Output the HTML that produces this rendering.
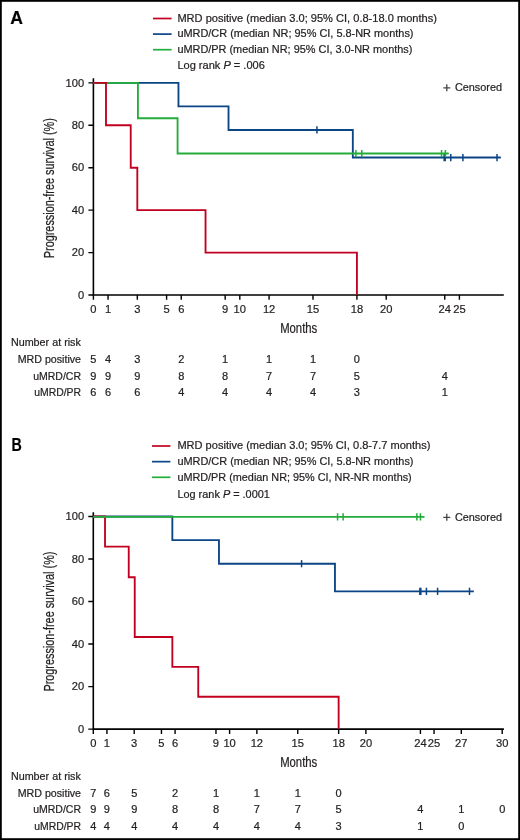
<!DOCTYPE html>
<html><head><meta charset="utf-8"><style>
html,body{margin:0;padding:0;background:#fff;}
body{width:520px;height:840px;overflow:hidden;}
svg{display:block;font-family:"Liberation Sans", sans-serif;will-change:transform;}
text{stroke:#231f20;stroke-width:0.22px;}
</style></head><body>
<svg width="520" height="840" viewBox="0 0 520 840">
<rect x="0" y="0" width="520" height="840" fill="#fff"/>
<text x="10.3" y="23.6" font-size="17.6" font-weight="bold" fill="#000" >A</text>
<line x1="153" y1="18.5" x2="171.6" y2="18.5" stroke="#c1001f" stroke-width="1.7"/>
<text x="177.4" y="21.8" font-size="11" textLength="259.5" lengthAdjust="spacingAndGlyphs" fill="#231f20" >MRD positive (median 3.0; 95% CI, 0.8-18.0 months)</text>
<line x1="153" y1="34.1" x2="171.6" y2="34.1" stroke="#0b4585" stroke-width="1.7"/>
<text x="177.4" y="37.3" font-size="11" textLength="236.1" lengthAdjust="spacingAndGlyphs" fill="#231f20" >uMRD/CR (median NR; 95% CI, 5.8-NR months)</text>
<line x1="153" y1="49.7" x2="171.6" y2="49.7" stroke="#22ad3a" stroke-width="1.7"/>
<text x="177.4" y="52.9" font-size="11" textLength="235" lengthAdjust="spacingAndGlyphs" fill="#231f20" >uMRD/PR (median NR; 95% CI, 3.0-NR months)</text>
<text x="177.4" y="68.9" font-size="11" textLength="87.4" lengthAdjust="spacingAndGlyphs" fill="#231f20" >Log rank <tspan font-style="italic">P</tspan> = .006</text>
<path d="M443.3 87.8H450.3M446.8 84.3V91.3" stroke="#444" stroke-width="1.3" fill="none"/>
<text x="454.9" y="91.2" font-size="11.3" textLength="47.1" lengthAdjust="spacingAndGlyphs" fill="#231f20" >Censored</text>
<path d="M93.4 78.2V295.05H503.8" stroke="#000" stroke-width="1.6" fill="none"/>
<path d="M88.4 295.05H93.4M88.4 252.61H93.4M88.4 210.17H93.4M88.4 167.73H93.4M88.4 125.29H93.4M88.4 82.85H93.4M93.4 295.05V299.85M108.04 295.05V299.85M137.32 295.05V299.85M166.6 295.05V299.85M181.24 295.05V299.85M225.16 295.05V299.85M239.8 295.05V299.85M269.08 295.05V299.85M313 295.05V299.85M356.92 295.05V299.85M386.2 295.05V299.85M444.76 295.05V299.85M459.4 295.05V299.85" stroke="#000" stroke-width="1.4" fill="none"/>
<text x="84.2" y="298.8" font-size="11.7" text-anchor="end" textLength="6.2" lengthAdjust="spacingAndGlyphs" fill="#231f20" >0</text>
<text x="84.2" y="256.36" font-size="11.7" text-anchor="end" textLength="12.4" lengthAdjust="spacingAndGlyphs" fill="#231f20" >20</text>
<text x="84.2" y="213.92" font-size="11.7" text-anchor="end" textLength="12.4" lengthAdjust="spacingAndGlyphs" fill="#231f20" >40</text>
<text x="84.2" y="171.48" font-size="11.7" text-anchor="end" textLength="12.4" lengthAdjust="spacingAndGlyphs" fill="#231f20" >60</text>
<text x="84.2" y="129.04" font-size="11.7" text-anchor="end" textLength="12.4" lengthAdjust="spacingAndGlyphs" fill="#231f20" >80</text>
<text x="84.2" y="86.6" font-size="11.7" text-anchor="end" textLength="18.6" lengthAdjust="spacingAndGlyphs" fill="#231f20" >100</text>
<text x="93.4" y="313.25" font-size="11.6" text-anchor="middle" textLength="6.2" lengthAdjust="spacingAndGlyphs" fill="#231f20" >0</text>
<text x="108.04" y="313.25" font-size="11.6" text-anchor="middle" textLength="6.2" lengthAdjust="spacingAndGlyphs" fill="#231f20" >1</text>
<text x="137.32" y="313.25" font-size="11.6" text-anchor="middle" textLength="6.2" lengthAdjust="spacingAndGlyphs" fill="#231f20" >3</text>
<text x="166.6" y="313.25" font-size="11.6" text-anchor="middle" textLength="6.2" lengthAdjust="spacingAndGlyphs" fill="#231f20" >5</text>
<text x="181.24" y="313.25" font-size="11.6" text-anchor="middle" textLength="6.2" lengthAdjust="spacingAndGlyphs" fill="#231f20" >6</text>
<text x="225.16" y="313.25" font-size="11.6" text-anchor="middle" textLength="6.2" lengthAdjust="spacingAndGlyphs" fill="#231f20" >9</text>
<text x="239.8" y="313.25" font-size="11.6" text-anchor="middle" textLength="12.4" lengthAdjust="spacingAndGlyphs" fill="#231f20" >10</text>
<text x="269.08" y="313.25" font-size="11.6" text-anchor="middle" textLength="12.4" lengthAdjust="spacingAndGlyphs" fill="#231f20" >12</text>
<text x="313" y="313.25" font-size="11.6" text-anchor="middle" textLength="12.4" lengthAdjust="spacingAndGlyphs" fill="#231f20" >15</text>
<text x="356.92" y="313.25" font-size="11.6" text-anchor="middle" textLength="12.4" lengthAdjust="spacingAndGlyphs" fill="#231f20" >18</text>
<text x="386.2" y="313.25" font-size="11.6" text-anchor="middle" textLength="12.4" lengthAdjust="spacingAndGlyphs" fill="#231f20" >20</text>
<text x="444.76" y="313.25" font-size="11.6" text-anchor="middle" textLength="12.4" lengthAdjust="spacingAndGlyphs" fill="#231f20" >24</text>
<text x="459.4" y="313.25" font-size="11.6" text-anchor="middle" textLength="12.4" lengthAdjust="spacingAndGlyphs" fill="#231f20" >25</text>
<text x="298.7" y="332.95" font-size="14" text-anchor="middle" textLength="37.1" lengthAdjust="spacingAndGlyphs" fill="#231f20" >Months</text>
<text x="0" y="0" font-size="14" text-anchor="middle" textLength="140" lengthAdjust="spacingAndGlyphs" fill="#231f20" transform="translate(53.8 188.2) rotate(-90)">Progression-free survival (%)</text>
<path d="M93.4 82.85H178.46V106.4H228.53V129.96H352.82V157.54H500.83" stroke="#0b4585" stroke-width="1.85" fill="none" stroke-linejoin="miter"/>
<path d="M316.95 126.36V133.56" stroke="#0b4585" stroke-width="1.5" fill="none"/>
<path d="M444.17 153.94V161.14M445.2 153.94V161.14M450.76 153.94V161.14M462.91 153.94V161.14M497.02 153.94V161.14" stroke="#0b4585" stroke-width="1.5" fill="none"/>
<path d="M93.4 82.85H137.91V118.29H177.58V153.51H448.71" stroke="#22ad3a" stroke-width="1.85" fill="none" stroke-linejoin="miter"/>
<path d="M355.9 149.91V157.11M361.75 149.91V157.11M441.54 149.91V157.11M445.35 149.91V157.11" stroke="#22ad3a" stroke-width="1.5" fill="none"/>
<path d="M93.4 82.85H105.99V125.29H130.73V167.73H137.32V210.17H205.54V252.61H356.92V295.05" stroke="#c1001f" stroke-width="1.85" fill="none" stroke-linejoin="miter"/>
<text x="10.9" y="346.3" font-size="11" textLength="70" lengthAdjust="spacingAndGlyphs" fill="#231f20" >Number at risk</text>
<text x="81" y="362.93" font-size="11" text-anchor="end" textLength="63.3" lengthAdjust="spacingAndGlyphs" fill="#231f20" >MRD positive</text>
<text x="93.4" y="362.93" font-size="11" text-anchor="middle" fill="#231f20" >5</text>
<text x="108.04" y="362.93" font-size="11" text-anchor="middle" fill="#231f20" >4</text>
<text x="137.32" y="362.93" font-size="11" text-anchor="middle" fill="#231f20" >3</text>
<text x="181.24" y="362.93" font-size="11" text-anchor="middle" fill="#231f20" >2</text>
<text x="225.16" y="362.93" font-size="11" text-anchor="middle" fill="#231f20" >1</text>
<text x="269.08" y="362.93" font-size="11" text-anchor="middle" fill="#231f20" >1</text>
<text x="313" y="362.93" font-size="11" text-anchor="middle" fill="#231f20" >1</text>
<text x="356.92" y="362.93" font-size="11" text-anchor="middle" fill="#231f20" >0</text>
<text x="81" y="379.56" font-size="11" text-anchor="end" textLength="47.8" lengthAdjust="spacingAndGlyphs" fill="#231f20" >uMRD/CR</text>
<text x="93.4" y="379.56" font-size="11" text-anchor="middle" fill="#231f20" >9</text>
<text x="108.04" y="379.56" font-size="11" text-anchor="middle" fill="#231f20" >9</text>
<text x="137.32" y="379.56" font-size="11" text-anchor="middle" fill="#231f20" >9</text>
<text x="181.24" y="379.56" font-size="11" text-anchor="middle" fill="#231f20" >8</text>
<text x="225.16" y="379.56" font-size="11" text-anchor="middle" fill="#231f20" >8</text>
<text x="269.08" y="379.56" font-size="11" text-anchor="middle" fill="#231f20" >7</text>
<text x="313" y="379.56" font-size="11" text-anchor="middle" fill="#231f20" >7</text>
<text x="356.92" y="379.56" font-size="11" text-anchor="middle" fill="#231f20" >5</text>
<text x="444.76" y="379.56" font-size="11" text-anchor="middle" fill="#231f20" >4</text>
<text x="81" y="396.19" font-size="11" text-anchor="end" textLength="46.8" lengthAdjust="spacingAndGlyphs" fill="#231f20" >uMRD/PR</text>
<text x="93.4" y="396.19" font-size="11" text-anchor="middle" fill="#231f20" >6</text>
<text x="108.04" y="396.19" font-size="11" text-anchor="middle" fill="#231f20" >6</text>
<text x="137.32" y="396.19" font-size="11" text-anchor="middle" fill="#231f20" >6</text>
<text x="181.24" y="396.19" font-size="11" text-anchor="middle" fill="#231f20" >4</text>
<text x="225.16" y="396.19" font-size="11" text-anchor="middle" fill="#231f20" >4</text>
<text x="269.08" y="396.19" font-size="11" text-anchor="middle" fill="#231f20" >4</text>
<text x="313" y="396.19" font-size="11" text-anchor="middle" fill="#231f20" >4</text>
<text x="356.92" y="396.19" font-size="11" text-anchor="middle" fill="#231f20" >3</text>
<text x="444.76" y="396.19" font-size="11" text-anchor="middle" fill="#231f20" >1</text>
<text x="11.5" y="451.3" font-size="17.6" textLength="10.3" lengthAdjust="spacingAndGlyphs" font-weight="bold" fill="#000" >B</text>
<line x1="152" y1="446" x2="170.4" y2="446" stroke="#c1001f" stroke-width="1.7"/>
<text x="177.4" y="449.4" font-size="11" textLength="253" lengthAdjust="spacingAndGlyphs" fill="#231f20" >MRD positive (median 3.0; 95% CI, 0.8-7.7 months)</text>
<line x1="152" y1="461.65" x2="170.4" y2="461.65" stroke="#0b4585" stroke-width="1.7"/>
<text x="177.4" y="465" font-size="11" textLength="236.1" lengthAdjust="spacingAndGlyphs" fill="#231f20" >uMRD/CR (median NR; 95% CI, 5.8-NR months)</text>
<line x1="152" y1="477.3" x2="170.4" y2="477.3" stroke="#22ad3a" stroke-width="1.7"/>
<text x="177.4" y="480.7" font-size="11" textLength="234.3" lengthAdjust="spacingAndGlyphs" fill="#231f20" >uMRD/PR (median NR; 95% CI, NR-NR months)</text>
<text x="177.4" y="497.7" font-size="11" textLength="92.5" lengthAdjust="spacingAndGlyphs" fill="#231f20" >Log rank <tspan font-style="italic">P</tspan> = .0001</text>
<path d="M443.3 517.3H450.3M446.8 513.8V520.8" stroke="#444" stroke-width="1.3" fill="none"/>
<text x="454.9" y="520.7" font-size="11.3" textLength="47.1" lengthAdjust="spacingAndGlyphs" fill="#231f20" >Censored</text>
<path d="M93.3 512.2V729.1H503.9" stroke="#000" stroke-width="1.6" fill="none"/>
<path d="M88.3 729.1H93.3M88.3 686.58H93.3M88.3 644.06H93.3M88.3 601.54H93.3M88.3 559.02H93.3M88.3 516.5H93.3M93.3 729.1V733.9M106.93 729.1V733.9M134.19 729.1V733.9M161.45 729.1V733.9M175.08 729.1V733.9M215.97 729.1V733.9M229.6 729.1V733.9M256.86 729.1V733.9M297.75 729.1V733.9M338.64 729.1V733.9M365.9 729.1V733.9M420.42 729.1V733.9M434.05 729.1V733.9M461.31 729.1V733.9M502.2 729.1V733.9" stroke="#000" stroke-width="1.4" fill="none"/>
<text x="84.2" y="732.85" font-size="11.7" text-anchor="end" textLength="6.2" lengthAdjust="spacingAndGlyphs" fill="#231f20" >0</text>
<text x="84.2" y="690.33" font-size="11.7" text-anchor="end" textLength="12.4" lengthAdjust="spacingAndGlyphs" fill="#231f20" >20</text>
<text x="84.2" y="647.81" font-size="11.7" text-anchor="end" textLength="12.4" lengthAdjust="spacingAndGlyphs" fill="#231f20" >40</text>
<text x="84.2" y="605.29" font-size="11.7" text-anchor="end" textLength="12.4" lengthAdjust="spacingAndGlyphs" fill="#231f20" >60</text>
<text x="84.2" y="562.77" font-size="11.7" text-anchor="end" textLength="12.4" lengthAdjust="spacingAndGlyphs" fill="#231f20" >80</text>
<text x="84.2" y="520.25" font-size="11.7" text-anchor="end" textLength="18.6" lengthAdjust="spacingAndGlyphs" fill="#231f20" >100</text>
<text x="93.3" y="747.4" font-size="11.6" text-anchor="middle" textLength="6.2" lengthAdjust="spacingAndGlyphs" fill="#231f20" >0</text>
<text x="106.93" y="747.4" font-size="11.6" text-anchor="middle" textLength="6.2" lengthAdjust="spacingAndGlyphs" fill="#231f20" >1</text>
<text x="134.19" y="747.4" font-size="11.6" text-anchor="middle" textLength="6.2" lengthAdjust="spacingAndGlyphs" fill="#231f20" >3</text>
<text x="161.45" y="747.4" font-size="11.6" text-anchor="middle" textLength="6.2" lengthAdjust="spacingAndGlyphs" fill="#231f20" >5</text>
<text x="175.08" y="747.4" font-size="11.6" text-anchor="middle" textLength="6.2" lengthAdjust="spacingAndGlyphs" fill="#231f20" >6</text>
<text x="215.97" y="747.4" font-size="11.6" text-anchor="middle" textLength="6.2" lengthAdjust="spacingAndGlyphs" fill="#231f20" >9</text>
<text x="229.6" y="747.4" font-size="11.6" text-anchor="middle" textLength="12.4" lengthAdjust="spacingAndGlyphs" fill="#231f20" >10</text>
<text x="256.86" y="747.4" font-size="11.6" text-anchor="middle" textLength="12.4" lengthAdjust="spacingAndGlyphs" fill="#231f20" >12</text>
<text x="297.75" y="747.4" font-size="11.6" text-anchor="middle" textLength="12.4" lengthAdjust="spacingAndGlyphs" fill="#231f20" >15</text>
<text x="338.64" y="747.4" font-size="11.6" text-anchor="middle" textLength="12.4" lengthAdjust="spacingAndGlyphs" fill="#231f20" >18</text>
<text x="365.9" y="747.4" font-size="11.6" text-anchor="middle" textLength="12.4" lengthAdjust="spacingAndGlyphs" fill="#231f20" >20</text>
<text x="420.42" y="747.4" font-size="11.6" text-anchor="middle" textLength="12.4" lengthAdjust="spacingAndGlyphs" fill="#231f20" >24</text>
<text x="434.05" y="747.4" font-size="11.6" text-anchor="middle" textLength="12.4" lengthAdjust="spacingAndGlyphs" fill="#231f20" >25</text>
<text x="461.31" y="747.4" font-size="11.6" text-anchor="middle" textLength="12.4" lengthAdjust="spacingAndGlyphs" fill="#231f20" >27</text>
<text x="502.2" y="747.4" font-size="11.6" text-anchor="middle" textLength="12.4" lengthAdjust="spacingAndGlyphs" fill="#231f20" >30</text>
<text x="298.7" y="766.5" font-size="14" text-anchor="middle" textLength="37.1" lengthAdjust="spacingAndGlyphs" fill="#231f20" >Months</text>
<text x="0" y="0" font-size="14" text-anchor="middle" textLength="140" lengthAdjust="spacingAndGlyphs" fill="#231f20" transform="translate(53.8 621.6) rotate(-90)">Progression-free survival (%)</text>
<path d="M93.3 516.5H172.35V540.1H218.97V563.7H334.96V591.34H473.85" stroke="#0b4585" stroke-width="1.85" fill="none" stroke-linejoin="miter"/>
<path d="M301.57 560.1V567.3" stroke="#0b4585" stroke-width="1.5" fill="none"/>
<path d="M419.87 587.74V594.94M420.83 587.74V594.94M426.42 587.74V594.94M437.59 587.74V594.94M469.49 587.74V594.94" stroke="#0b4585" stroke-width="1.5" fill="none"/>
<path d="M93.3 516.5H105.02V546.6H128.74V577.2H134.74V637H172.35V666.81H198.25V696.7H338.64V729.1" stroke="#c1001f" stroke-width="1.85" fill="none" stroke-linejoin="miter"/>
<path d="M93.3 516.93H424.51" stroke="#22ad3a" stroke-width="1.85" fill="none" stroke-linejoin="miter"/>
<path d="M337.55 513.33V520.53M343.14 513.33V520.53M416.88 513.33V520.53M420.42 513.33V520.53" stroke="#22ad3a" stroke-width="1.5" fill="none"/>
<text x="10.9" y="780.1" font-size="11" textLength="70" lengthAdjust="spacingAndGlyphs" fill="#231f20" >Number at risk</text>
<text x="81" y="796.77" font-size="11" text-anchor="end" textLength="63.3" lengthAdjust="spacingAndGlyphs" fill="#231f20" >MRD positive</text>
<text x="93.3" y="796.77" font-size="11" text-anchor="middle" fill="#231f20" >7</text>
<text x="106.93" y="796.77" font-size="11" text-anchor="middle" fill="#231f20" >6</text>
<text x="134.19" y="796.77" font-size="11" text-anchor="middle" fill="#231f20" >5</text>
<text x="175.08" y="796.77" font-size="11" text-anchor="middle" fill="#231f20" >2</text>
<text x="215.97" y="796.77" font-size="11" text-anchor="middle" fill="#231f20" >1</text>
<text x="256.86" y="796.77" font-size="11" text-anchor="middle" fill="#231f20" >1</text>
<text x="297.75" y="796.77" font-size="11" text-anchor="middle" fill="#231f20" >1</text>
<text x="338.64" y="796.77" font-size="11" text-anchor="middle" fill="#231f20" >0</text>
<text x="81" y="813.44" font-size="11" text-anchor="end" textLength="47.8" lengthAdjust="spacingAndGlyphs" fill="#231f20" >uMRD/CR</text>
<text x="93.3" y="813.44" font-size="11" text-anchor="middle" fill="#231f20" >9</text>
<text x="106.93" y="813.44" font-size="11" text-anchor="middle" fill="#231f20" >9</text>
<text x="134.19" y="813.44" font-size="11" text-anchor="middle" fill="#231f20" >9</text>
<text x="175.08" y="813.44" font-size="11" text-anchor="middle" fill="#231f20" >8</text>
<text x="215.97" y="813.44" font-size="11" text-anchor="middle" fill="#231f20" >8</text>
<text x="256.86" y="813.44" font-size="11" text-anchor="middle" fill="#231f20" >7</text>
<text x="297.75" y="813.44" font-size="11" text-anchor="middle" fill="#231f20" >7</text>
<text x="338.64" y="813.44" font-size="11" text-anchor="middle" fill="#231f20" >5</text>
<text x="420.42" y="813.44" font-size="11" text-anchor="middle" fill="#231f20" >4</text>
<text x="461.31" y="813.44" font-size="11" text-anchor="middle" fill="#231f20" >1</text>
<text x="502.2" y="813.44" font-size="11" text-anchor="middle" fill="#231f20" >0</text>
<text x="81" y="830.11" font-size="11" text-anchor="end" textLength="46.8" lengthAdjust="spacingAndGlyphs" fill="#231f20" >uMRD/PR</text>
<text x="93.3" y="830.11" font-size="11" text-anchor="middle" fill="#231f20" >4</text>
<text x="106.93" y="830.11" font-size="11" text-anchor="middle" fill="#231f20" >4</text>
<text x="134.19" y="830.11" font-size="11" text-anchor="middle" fill="#231f20" >4</text>
<text x="175.08" y="830.11" font-size="11" text-anchor="middle" fill="#231f20" >4</text>
<text x="215.97" y="830.11" font-size="11" text-anchor="middle" fill="#231f20" >4</text>
<text x="256.86" y="830.11" font-size="11" text-anchor="middle" fill="#231f20" >4</text>
<text x="297.75" y="830.11" font-size="11" text-anchor="middle" fill="#231f20" >4</text>
<text x="338.64" y="830.11" font-size="11" text-anchor="middle" fill="#231f20" >3</text>
<text x="420.42" y="830.11" font-size="11" text-anchor="middle" fill="#231f20" >1</text>
<text x="461.31" y="830.11" font-size="11" text-anchor="middle" fill="#231f20" >0</text>
<rect x="0.9" y="0.9" width="518.2" height="838.2" fill="none" stroke="#000" stroke-width="1.8"/>
</svg>
</body></html>
